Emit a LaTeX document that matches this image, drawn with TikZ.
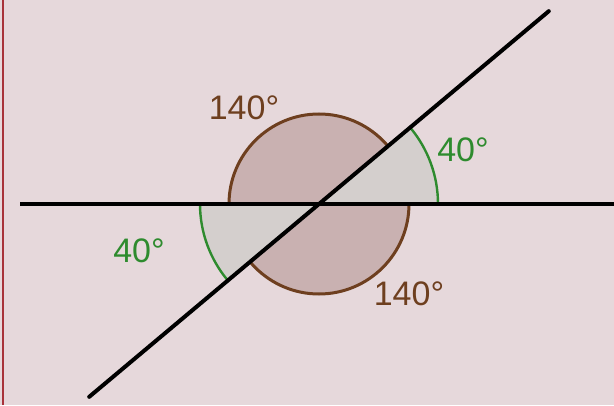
\documentclass[tikz,border=0pt]{standalone}
\usepackage{fontspec}
\setmainfont{Liberation Sans}
\usetikzlibrary{calc}
\definecolor{bgpink}{HTML}{E6D8DB}
\definecolor{discfill}{HTML}{C9B1B1}
\definecolor{discbrown}{HTML}{6E3F1F}
\definecolor{sectgray}{HTML}{D4CFCD}
\definecolor{arcgreen}{HTML}{2E8B2E}
\definecolor{edgered}{HTML}{A8333A}

\begin{document}
\begin{tikzpicture}[x=1pt, y=1pt,
  line/.style={line width=4pt, black},
  disc/.style={draw=discbrown, line width=3pt, fill=discfill},
  sector/.style={fill=sectgray},
  greenarc/.style={draw=arcgreen, line width=2.4pt},
  bigangle/.style={font=\fontsize{34}{36}\selectfont, text=discbrown, inner sep=0pt},
  smallangle/.style={font=\fontsize{34}{36}\selectfont, text=arcgreen, inner sep=0pt},
]

\fill[bgpink] (0,0) rectangle (614,405);
\useasboundingbox (0,0) rectangle (614,405);
\draw[edgered, line width=2pt] (3,0) -- (3,405);

\coordinate (O) at (319,201);
\coordinate (hl) at (20,201);
\coordinate (hr) at (614,201);
\coordinate (dt) at ($(O)+(40:300)$);
\coordinate (db) at ($(O)+(220:300)$);

\draw[disc] (O) circle (90);

\fill[sector] (O) -- ++(0:119) arc (0:40:119) -- cycle;
\fill[sector] (O) -- ++(180:119) arc (180:220:119) -- cycle;
\draw[greenarc] ($(O)+(0:119)$) arc (0:40:119);
\draw[greenarc] ($(O)+(180:119)$) arc (180:220:119);

\draw[line] (hl) -- (hr);
\draw[line, line cap=round] (db) -- (dt);

\node[bigangle] (a1) at (244,297) {140°};
\node[bigangle] (a2) at (409,111) {140°};
\node[smallangle] (b1) at (463,255) {40°};
\node[smallangle] (b2) at (139,154) {40°};

\end{tikzpicture}
\end{document}
